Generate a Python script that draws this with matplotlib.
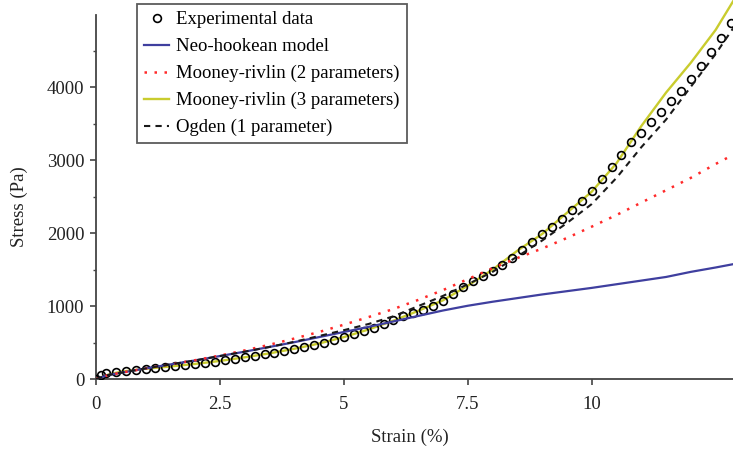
import matplotlib
matplotlib.use("Agg")
import matplotlib.pyplot as plt

plt.rcParams['font.family'] = ['Liberation Serif', 'DejaVu Serif']

# measured stress-strain points
strain_exp = [0, 0.1, 0.2, 0.4, 0.6, 0.8, 1.0, 1.2, 1.4, 1.6, 1.8, 2.0, 2.2, 2.4, 2.6, 2.8,
              3.0, 3.2, 3.4, 3.6, 3.8, 4.0, 4.2, 4.4, 4.6, 4.8, 5.0, 5.2, 5.4, 5.6, 5.8,
              6.0, 6.2, 6.4, 6.6, 6.8, 7.0, 7.2, 7.4, 7.6, 7.8, 8.0, 8.2, 8.4, 8.6, 8.8,
              9.0, 9.2, 9.4, 9.6, 9.8, 10.0, 10.2, 10.4, 10.6, 10.8, 11.0, 11.2, 11.4,
              11.6, 11.8, 12.0, 12.2, 12.4, 12.6, 12.8]
stress_exp = [0, 50, 80, 100, 115, 127, 138, 150, 162, 175, 188, 202, 218, 236, 256, 277,
              298, 318, 340, 362, 385, 410, 438, 468, 500, 535, 572, 612, 655, 703, 755,
              808, 858, 903, 948, 1000, 1070, 1160, 1260, 1340, 1410, 1480, 1565, 1660,
              1765, 1880, 1990, 2090, 2200, 2320, 2440, 2580, 2740, 2910, 3070, 3250,
              3380, 3530, 3665, 3810, 3950, 4110, 4290, 4480, 4680, 4880]

# fitted model curves
strain_fit = [0, 0.25, 0.5, 1.0, 1.5, 2.0, 2.5, 3.0, 3.5, 4.0, 4.5, 5.0, 5.5, 6.0, 6.5,
              7.0, 7.5, 8.0, 8.5, 9.0, 9.5, 10.0, 10.5, 11.0, 11.5, 12.0, 12.5, 12.85]
neo_hookean = [0, 55, 85, 145, 200, 255, 315, 375, 440, 505, 575, 645, 715, 790, 865,
               940, 1005, 1060, 1110, 1160, 1205, 1250, 1300, 1350, 1400, 1470, 1530, 1575]
mooney_2p = [0, 55, 85, 145, 200, 258, 322, 392, 470, 555, 645, 745, 850, 960, 1085,
             1220, 1370, 1520, 1660, 1790, 1935, 2090, 2250, 2420, 2590, 2760, 2950, 3075]
mooney_3p = [0, 60, 100, 140, 172, 207, 248, 298, 352, 415, 487, 575, 680, 800, 935,
             1080, 1280, 1500, 1760, 1990, 2280, 2570, 2960, 3470, 3930, 4340, 4790, 5180]
ogden_1p = [0, 55, 85, 145, 200, 255, 315, 375, 440, 510, 590, 670, 755, 860, 1000,
            1140, 1300, 1470, 1680, 1900, 2140, 2400, 2760, 3180, 3560, 4010, 4460, 4810]

fig = plt.figure(figsize=(7.33, 4.49), dpi=100)
ax = fig.add_axes([96 / 733, 70 / 449, 1 - 96 / 733, 379 / 449])

l3, = ax.plot(strain_fit, mooney_3p, color='#c9cc2e', lw=1.7, zorder=2,
              label='Mooney-rivlin (3 parameters)')
pts, = ax.plot(strain_exp, stress_exp, 'o', ms=5.6, mfc='none', mec='black', mew=1.2,
               zorder=3, label='Experimental data')
l1, = ax.plot(strain_fit, neo_hookean, color='#3f3f9f', lw=1.6, zorder=4,
              label='Neo-hookean model')
l2, = ax.plot(strain_fit, mooney_2p, color='#ff2a2a', lw=1.8, dashes=(1, 3), zorder=4,
              label='Mooney-rivlin (2 parameters)')
l4, = ax.plot(strain_fit, ogden_1p, color='#1a1a1a', lw=1.5, dashes=(3, 2.5), zorder=5,
              label='Ogden (1 parameter)')

ax.set_xlim(0, 12.85)
ax.set_ylim(0, 5200)

for s in ['top', 'right']:
    ax.spines[s].set_visible(False)
for s in ['left', 'bottom']:
    ax.spines[s].set_color('#444444')
    ax.spines[s].set_linewidth(1.3)
ax.spines['left'].set_bounds(0, 4990)

ax.set_xticks([0, 2.5, 5, 7.5, 10])
ax.set_xticklabels(['0', '2.5', '5', '7.5', '10'])
ax.set_yticks([0, 1000, 2000, 3000, 4000])
ax.set_yticks([500, 1500, 2500, 3500, 4500], minor=True)
ax.tick_params(which='major', direction='out', length=4, width=1.2, color='#444444',
               labelsize=13.5, labelcolor='#222222')
ax.tick_params(axis='x', which='major', pad=8)
ax.tick_params(axis='y', which='major', pad=4.5)
ax.tick_params(which='minor', direction='out', length=2.5, width=1.0, color='#444444')

ax.set_xlabel('Strain (%)', fontsize=13.5, color='#222222')
ax.set_ylabel('Stress (Pa)', fontsize=13.5, color='#222222')
ax.xaxis.label.set_va('center')
ax.yaxis.label.set_va('center')
ax.xaxis.set_label_coords(0.493, -0.153)
ax.yaxis.set_label_coords(-0.12, 0.454)

leg = ax.legend(handles=[pts, l1, l2, l3, l4], loc='upper left',
                bbox_to_anchor=(137 / 733, 1 - 4 / 449), bbox_transform=fig.transFigure,
                fontsize=13.5, frameon=True, fancybox=False, borderaxespad=0,
                handlelength=1.35, handletextpad=0.37, labelspacing=0.52, borderpad=0.38)
leg.get_frame().set_edgecolor('#333333')
leg.get_frame().set_linewidth(1.3)

fig.savefig('out.png', dpi=100)
